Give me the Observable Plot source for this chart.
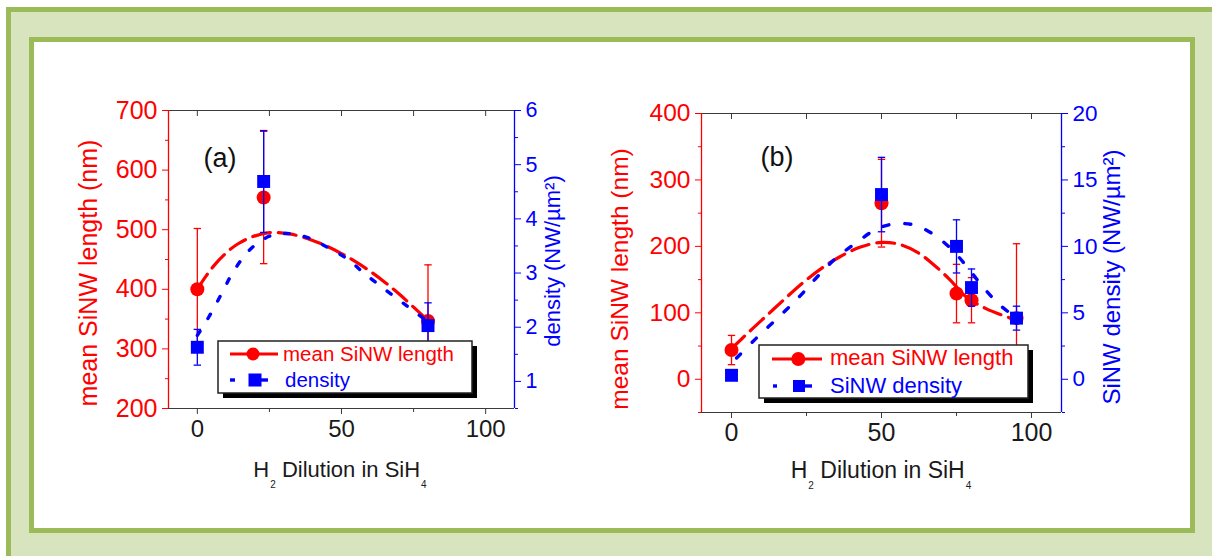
<!DOCTYPE html>
<html>
<head>
<meta charset="utf-8">
<script src="https://cdn.jsdelivr.net/npm/d3@7"></script>
<script src="https://cdn.jsdelivr.net/npm/@observablehq/plot@0.6"></script>
<style>
html, body { margin: 0; padding: 0; background: #fff; overflow: hidden; }
#stage { position: relative; width: 1212px; height: 556px; overflow: hidden;
  font-family: "Liberation Sans", Arial, sans-serif; }
.outer { position: absolute; left: 6px; top: 7px; right: -20px; bottom: -20px;
  background: #d7e4bd; border-left: 5px solid #9bbb59; border-top: 5px solid #9bbb59; }
.inner { position: absolute; left: 29px; top: 37px; width: 1166px; height: 496px;
  box-sizing: border-box; border: 5px solid #9bbb59; background: #fff; }
.title { position: absolute; white-space: nowrap; line-height: 1; }
.rot { transform: translate(-50%, -50%) rotate(-90deg); }
.xt { transform: translate(-50%, 0); color: #1a1a1a; }
.sb { font-size: 10px; vertical-align: -11px; margin-left: 1px; }
#legends { position: absolute; left: 0; top: 0; }
</style>
</head>
<body>
<div id="stage">
  <div class="outer"></div>
  <div class="inner"></div>
</div>
<script>
// ---------------- Panel (a) data ----------------
const dilutionA   = [0, 23, 80];
const lengthA     = [400, 554, 347];
const lengthErrA  = [102, 111, 94];
const densityA    = [1.63, 4.69, 2.03];
const densityErrA = [0.33, 0.94, 0.42];
const lenFitXA = [0, 3, 6, 10, 14, 19, 25, 32, 40, 45, 50, 55, 60, 65, 70, 75, 81];
const lenFitYA = [400, 422, 441, 461, 476, 488, 495, 493, 482, 472, 460, 446, 430, 412, 392, 370, 343];
const denFitXA = [0, 3, 6, 9, 12, 18, 25, 31, 38, 45, 52, 58, 65, 73, 80];
const denFitYA = [1.85, 2.1, 2.38, 2.68, 2.98, 3.42, 3.68, 3.73, 3.66, 3.48, 3.26, 2.99, 2.70, 2.38, 2.10];

// ---------------- Panel (b) data ----------------
const dilutionB   = [0, 50, 75, 80, 95];
const lengthB     = [44, 265, 129, 119, 92];
const lengthErrB  = [22, 66, 44, 34, 112];
const densityB    = [0.3, 13.9, 10.0, 6.9, 4.6];
const densityErrB = [0.2, 2.8, 2.0, 1.4, 0.9];
const lenFitXB = [0, 6, 12, 18, 24, 30, 36, 43, 50, 56, 62, 67, 73, 78, 85, 95];
const lenFitYB = [46, 72, 97, 122, 146, 167, 184, 199, 206, 203, 191, 174, 149, 125, 106, 89];
const denFitXB = [1.7, 8.3, 16, 22.8, 28.3, 35, 41.7, 48.3, 53.9, 60.5, 67.2, 73.9, 79.4, 84, 89.4, 95];
const denFitYB = [1.6, 3.1, 4.74, 6.26, 7.64, 9.15, 10.29, 11.3, 11.68, 11.63, 10.92, 9.66, 8.2, 6.9, 5.6, 4.6];

// ---------------- Axis ticks ----------------
const xTicks = [0, 50, 100];
const xMinor = [25, 75];
const xTop = [0, 25, 50, 75, 100];
const lenTicksA = [200, 300, 400, 500, 600, 700];
const lenMinorA = [250, 350, 450, 550, 650];
const denTicksA = [1, 2, 3, 4, 5, 6];
const denMinorA = [0.5, 1.5, 2.5, 3.5, 4.5, 5.5];
const lenTicksB = [0, 100, 200, 300, 400];
const lenMinorB = [-50, 50, 150, 250, 350];
const denTicksB = [0, 5, 10, 15, 20];
const denMinorB = [-2.5, 2.5, 7.5, 12.5, 17.5];

const FONT = '"Liberation Sans", Arial, sans-serif';
const RED = "#ff0000", BLUE = "#0000ff", AX = "#3a3a3a";

const capSymbol = { draw(ctx, size) { const w = Math.sqrt(size / Math.PI); ctx.moveTo(-w, 0); ctx.lineTo(w, 0); } };
const rows = (xs, ys, es) => xs.map((x, i) => ({x, y: ys[i], e: es ? es[i] : 0}));
const noLabel = () => "";
const intFmt = d3.format("~g");

function lengthLayer(c) {
  const pts = rows(c.x, c.y, c.err);
  const fit = rows(c.fitX, c.fitY);
  return Plot.plot({
    width: 1212, height: 556,
    marginLeft: c.m[0], marginRight: c.m[1], marginTop: c.m[2], marginBottom: c.m[3],
    x: {domain: [-10, 110]},
    y: {domain: c.yDomain},
    style: {fontFamily: FONT, background: "transparent", overflow: "visible"},
    marks: [
      Plot.ruleY(c.yDomain, {stroke: AX, strokeWidth: 1.2}),
      Plot.ruleX([-10], {stroke: RED, strokeWidth: 1.3}),
      Plot.axisX({anchor: "bottom", ticks: xTicks, tickSize: 6, tickPadding: 5, tickFormat: intFmt, fontSize: c.xFont, color: "#1a1a1a", stroke: AX, label: null}),
      Plot.axisX({anchor: "bottom", ticks: xMinor, tickSize: 4, tickFormat: noLabel, color: AX, label: null}),
      Plot.axisX({anchor: "top", ticks: xTop, tickSize: -5, tickFormat: noLabel, color: AX, label: null}),
      Plot.axisY({anchor: "left", ticks: c.yTicks, tickSize: 6, tickPadding: 5, tickFormat: intFmt, fontSize: c.yFont, color: RED, label: null}),
      Plot.axisY({anchor: "left", ticks: c.yMinor, tickSize: 3, tickFormat: noLabel, color: RED, label: null}),
      Plot.line(fit, {x: "x", y: "y", curve: "catmull-rom", stroke: RED, strokeWidth: 3.2, strokeDasharray: "18,8"}),
      Plot.ruleX(pts, {x: "x", y1: d => d.y - d.e, y2: d => d.y + d.e, stroke: RED, strokeWidth: 1.3}),
      Plot.dot(pts, {x: "x", y: d => d.y - d.e, symbol: capSymbol, r: 3.7, stroke: RED, fill: "none", strokeWidth: 1.3}),
      Plot.dot(pts, {x: "x", y: d => d.y + d.e, symbol: capSymbol, r: 3.7, stroke: RED, fill: "none", strokeWidth: 1.3}),
      Plot.dot(pts, {x: "x", y: "y", r: 7, fill: RED, stroke: "none", symbol: "circle"}),
      Plot.text([c.label], {text: d => d, frameAnchor: "top-left", textAnchor: "start", dx: c.labelDx, dy: c.labelDy, fontSize: 27, fill: "#111"})
    ]
  });
}

function densityLayer(c) {
  const pts = rows(c.x, c.y, c.err);
  const fit = rows(c.fitX, c.fitY);
  return Plot.plot({
    width: 1212, height: 556,
    marginLeft: c.m[0], marginRight: c.m[1], marginTop: c.m[2], marginBottom: c.m[3],
    x: {domain: [-10, 110], axis: null},
    y: {domain: c.yDomain},
    style: {fontFamily: FONT, background: "transparent", overflow: "visible"},
    marks: [
      Plot.ruleX([110], {stroke: BLUE, strokeWidth: 1.3}),
      Plot.axisY({anchor: "right", ticks: c.yTicks, tickSize: 6, tickPadding: 5, tickFormat: intFmt, fontSize: c.yFont, color: BLUE, label: null}),
      Plot.axisY({anchor: "right", ticks: c.yMinor, tickSize: 3, tickFormat: noLabel, color: BLUE, label: null}),
      Plot.line(fit, {x: "x", y: "y", curve: "catmull-rom", stroke: BLUE, strokeWidth: 3.4, strokeDasharray: c.dash}),
      Plot.ruleX(pts, {x: "x", y1: d => d.y - d.e, y2: d => d.y + d.e, stroke: BLUE, strokeWidth: 1.3}),
      Plot.dot(pts, {x: "x", y: d => d.y - d.e, symbol: capSymbol, r: 3.7, stroke: BLUE, fill: "none", strokeWidth: 1.3}),
      Plot.dot(pts, {x: "x", y: d => d.y + d.e, symbol: capSymbol, r: 3.7, stroke: BLUE, fill: "none", strokeWidth: 1.3}),
      Plot.dot(pts, {x: "x", y: "y", r: 7.3, fill: BLUE, stroke: "none", symbol: "square"})
    ]
  });
}

const marginA = [168, 698, 110, 148];
const marginB = [701, 151, 113, 144];

const layers = [
  lengthLayer({x: dilutionA, y: lengthA, err: lengthErrA, fitX: lenFitXA, fitY: lenFitYA, m: marginA,
    yDomain: [200, 700], yTicks: lenTicksA, yMinor: lenMinorA, yFont: 25, xFont: 24,
    label: "(a)", labelDx: 35, labelDy: 37}),
  densityLayer({x: dilutionA, y: densityA, err: densityErrA, fitX: denFitXA, fitY: denFitYA, m: marginA,
    yDomain: [0.5, 6], yTicks: denTicksA, yMinor: denMinorA, yFont: 21.5, dash: "5,15"}),
  lengthLayer({x: dilutionB, y: lengthB, err: lengthErrB, fitX: lenFitXB, fitY: lenFitYB, m: marginB,
    yDomain: [-50, 400], yTicks: lenTicksB, yMinor: lenMinorB, yFont: 24.5, xFont: 25,
    label: "(b)", labelDx: 59, labelDy: 33}),
  densityLayer({x: dilutionB, y: densityB, err: densityErrB, fitX: denFitXB, fitY: denFitYB, m: marginB,
    yDomain: [-2.5, 20], yTicks: denTicksB, yMinor: denMinorB, yFont: 22.5, dash: "6,16"})
];

const stage = document.getElementById("stage");
for (const svg of layers) {
  svg.style.position = "absolute";
  svg.style.left = "0px";
  svg.style.top = "0px";
  stage.appendChild(svg);
}

// Axis titles (real HTML text)
const titles = `
<div class="title rot" style="left:88px;top:273px;font-size:25px;color:${RED}">mean SiNW length (nm)</div>
<div class="title rot" style="left:553px;top:261px;font-size:22px;color:${BLUE}">density (NW/µm²)</div>
<div class="title xt" style="left:340px;top:458.5px;font-size:22px">H<span class="sb">2</span> Dilution in SiH<span class="sb">4</span></div>
<div class="title rot" style="left:620px;top:279px;font-size:24.5px;color:${RED}">mean SiNW length (nm)</div>
<div class="title rot" style="left:1112px;top:277px;font-size:24px;color:${BLUE}">SiNW density (NW/µm²)</div>
<div class="title xt" style="left:881px;top:458.8px;font-size:23px">H<span class="sb">2</span> Dilution in SiH<span class="sb">4</span></div>
`;
stage.insertAdjacentHTML("beforeend", titles);

// Legends (drawn on top of the data)
const legend = `
<svg id="legends" width="1212" height="556" font-family='${FONT}'>
  <rect x="223" y="346" width="254" height="52" fill="#000"/>
  <rect x="218" y="341" width="254" height="52" fill="#fff" stroke="#222" stroke-width="1.5"/>
  <line x1="230" x2="278" y1="354" y2="354" stroke="${RED}" stroke-width="3.2"/>
  <circle cx="253" cy="354" r="6.5" fill="${RED}"/>
  <text x="283" y="361" font-size="20.5" fill="${RED}">mean SiNW length</text>
  <line x1="230" x2="235" y1="380" y2="380" stroke="${BLUE}" stroke-width="3.4"/>
  <line x1="261" x2="268" y1="380" y2="380" stroke="${BLUE}" stroke-width="3.4"/>
  <rect x="248.5" y="373.5" width="13" height="13" fill="${BLUE}"/>
  <text x="285" y="387" font-size="20.5" fill="${BLUE}">density</text>

  <rect x="764" y="350" width="269" height="53" fill="#000"/>
  <rect x="759" y="345" width="269" height="53" fill="#fff" stroke="#222" stroke-width="1.5"/>
  <line x1="772" x2="822" y1="359" y2="359" stroke="${RED}" stroke-width="3.2"/>
  <circle cx="798.3" cy="359" r="7" fill="${RED}"/>
  <text x="830" y="365" font-size="22" fill="${RED}">mean SiNW length</text>
  <line x1="773" x2="777" y1="386" y2="386" stroke="${BLUE}" stroke-width="3.4"/>
  <line x1="805" x2="812" y1="386" y2="386" stroke="${BLUE}" stroke-width="3.4"/>
  <rect x="793" y="380" width="12" height="12" fill="${BLUE}"/>
  <text x="830" y="393" font-size="22" fill="${BLUE}">SiNW density</text>
</svg>`;
stage.insertAdjacentHTML("beforeend", legend);
</script>
</body>
</html>
